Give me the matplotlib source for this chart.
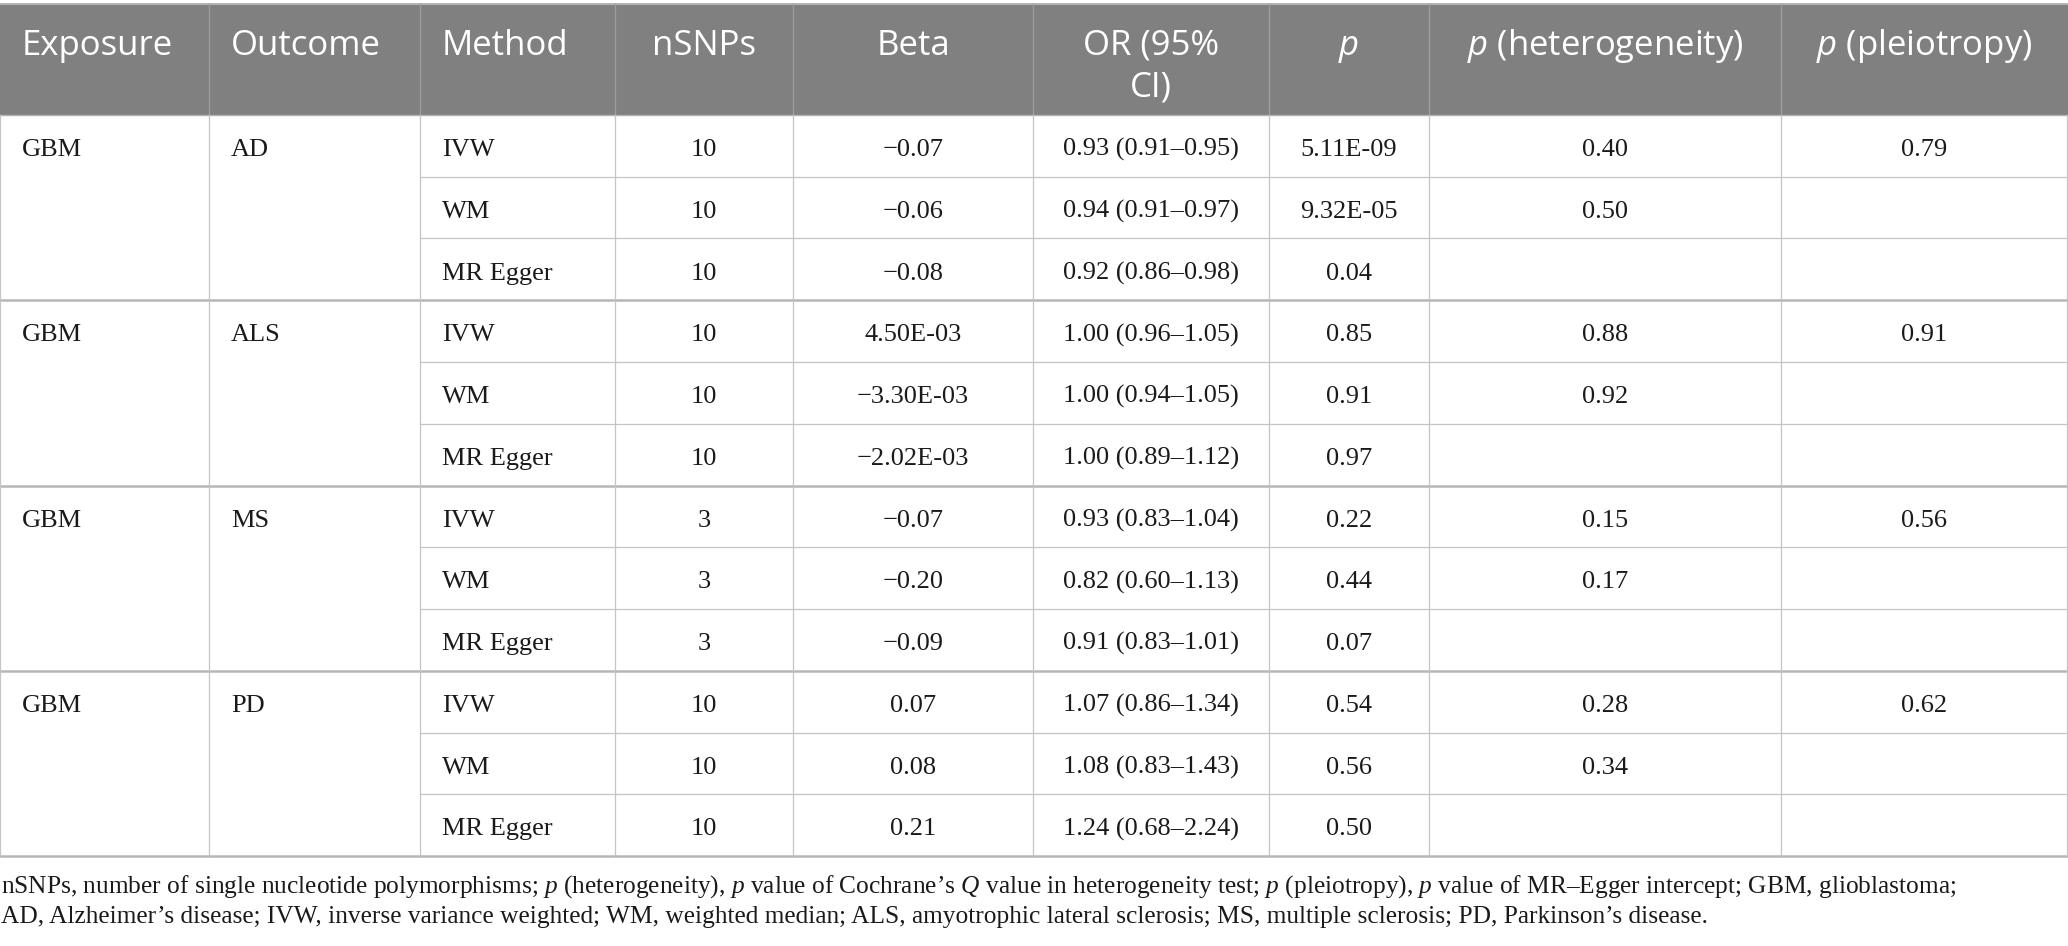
import matplotlib
matplotlib.use('Agg')
import matplotlib.pyplot as plt
from matplotlib.patches import Rectangle

# --- dane tabeli ---
headers = ['Exposure', 'Outcome', 'Method', 'nSNPs', 'Beta', 'OR (95%\nCI)',
           '$\\mathsf{p}$', '$\\mathsf{p}$ (heterogeneity)', '$\\mathsf{p}$ (pleiotropy)']

exposures = ['GBM', 'GBM', 'GBM', 'GBM']
outcomes = ['AD', 'ALS', 'MS', 'PD']
methods = ['IVW', 'WM', 'MR Egger'] * 4
nsnps = ['10', '10', '10', '10', '10', '10', '3', '3', '3', '10', '10', '10']
beta = ['\u22120.07', '\u22120.06', '\u22120.08',
        '4.50E-03', '\u22123.30E-03', '\u22122.02E-03',
        '\u22120.07', '\u22120.20', '\u22120.09',
        '0.07', '0.08', '0.21']
or_ci = ['0.93 (0.91\u20130.95)', '0.94 (0.91\u20130.97)', '0.92 (0.86\u20130.98)',
         '1.00 (0.96\u20131.05)', '1.00 (0.94\u20131.05)', '1.00 (0.89\u20131.12)',
         '0.93 (0.83\u20131.04)', '0.82 (0.60\u20131.13)', '0.91 (0.83\u20131.01)',
         '1.07 (0.86\u20131.34)', '1.08 (0.83\u20131.43)', '1.24 (0.68\u20132.24)']
p_vals = ['5.11E-09', '9.32E-05', '0.04', '0.85', '0.91', '0.97',
          '0.22', '0.44', '0.07', '0.54', '0.56', '0.50']
p_het = ['0.40', '0.50', '', '0.88', '0.92', '', '0.15', '0.17', '', '0.28', '0.34', '']
p_pleio = ['0.79', '0.91', '0.56', '0.62']

footnote = [
    "nSNPs, number of single nucleotide polymorphisms; $p$ (heterogeneity), $p$ value of "
    "Cochrane\u2019s $Q$ value in heterogeneity test; $p$ (pleiotropy), $p$ value of "
    "MR\u2013Egger intercept; GBM, glioblastoma;",
    "AD, Alzheimer\u2019s disease; IVW, inverse variance weighted; WM, weighted median; "
    "ALS, amyotrophic lateral sclerosis; MS, multiple sclerosis; PD, Parkinson\u2019s disease.",
]

# --- geometria (piksele) ---
W, H = 2068, 946
col_x = [0, 209, 420, 615, 793, 1033, 1269, 1429, 1781, 2067]
col_align = ['left', 'left', 'left'] + ['center'] * 6
pad = 22
head_top, head_bot = 4, 115
row_h = (856 - head_bot) / 12

plt.rcParams['mathtext.fontset'] = 'custom'
plt.rcParams['mathtext.it'] = 'Liberation Serif:italic'
plt.rcParams['mathtext.rm'] = 'Liberation Serif'
plt.rcParams['mathtext.sf'] = 'Open Sans:italic'

serif = ['Liberation Serif', 'DejaVu Serif']
sans = ['Open Sans', 'DejaVu Sans']

fig = plt.figure(figsize=(W / 100, H / 100), dpi=100)
ax = fig.add_axes([0, 0, 1, 1])
ax.set_xlim(0, W)
ax.set_ylim(H, 0)
ax.axis('off')

# naglowek
ax.add_patch(Rectangle((0, head_top), W, head_bot - head_top, facecolor='#808080',
                       edgecolor='none'))
ax.plot([0, W], [head_top, head_top], color='#b4b4b4', lw=1.4)
for x in col_x[1:-1]:
    ax.plot([x, x], [head_top, head_bot], color='#9c9c9c', lw=1.0)


def text_x(c):
    if col_align[c] == 'left':
        return col_x[c] + pad
    return (col_x[c] + col_x[c + 1]) / 2


for c, h in enumerate(headers):
    for k, line in enumerate(h.split('\n')):
        ax.text(text_x(c), 55 + k * 41, line, ha=col_align[c], va='baseline',
                fontsize=25, color='white', family=sans)

# linie tabeli
thin = dict(color='#c4c4c4', lw=0.9)
thick = dict(color='#b6b6b6', lw=1.8)
row_tops = [head_bot + i * row_h for i in range(12)]
for i in range(1, 12):
    y = row_tops[i]
    if i % 3 == 0:
        ax.plot([0, W], [y, y], **thick)
    else:
        ax.plot([col_x[2], W], [y, y], **thin)
ax.plot([0, W], [856, 856], **thick)
ax.plot([0, W], [head_bot, head_bot], color='#b0b0b0', lw=1.0)
for x in col_x:
    ax.plot([x, x], [head_bot, 856], **thin)

# tresc
body = dict(fontsize=19, color='#1a1a1a', family=serif, va='baseline')
base = 41
for g in range(4):
    y = row_tops[g * 3] + base
    ax.text(text_x(0), y, exposures[g], ha='left', **body)
    ax.text(text_x(1), y, outcomes[g], ha='left', **body)
    ax.text(text_x(8), y, p_pleio[g], ha='center', **body)

cols = [methods, nsnps, beta, or_ci, p_vals, p_het]
for i in range(12):
    y = row_tops[i] + base
    for j, vals in enumerate(cols):
        c = j + 2
        ax.text(text_x(c), y, vals[i], ha=col_align[c], **body)

# przypis
for k, line in enumerate(footnote):
    ax.text(1, 893 + k * 30, line, ha='left', va='baseline', fontsize=18.3,
            color='#1a1a1a', family=serif)

fig.savefig('out.png', dpi=100)
